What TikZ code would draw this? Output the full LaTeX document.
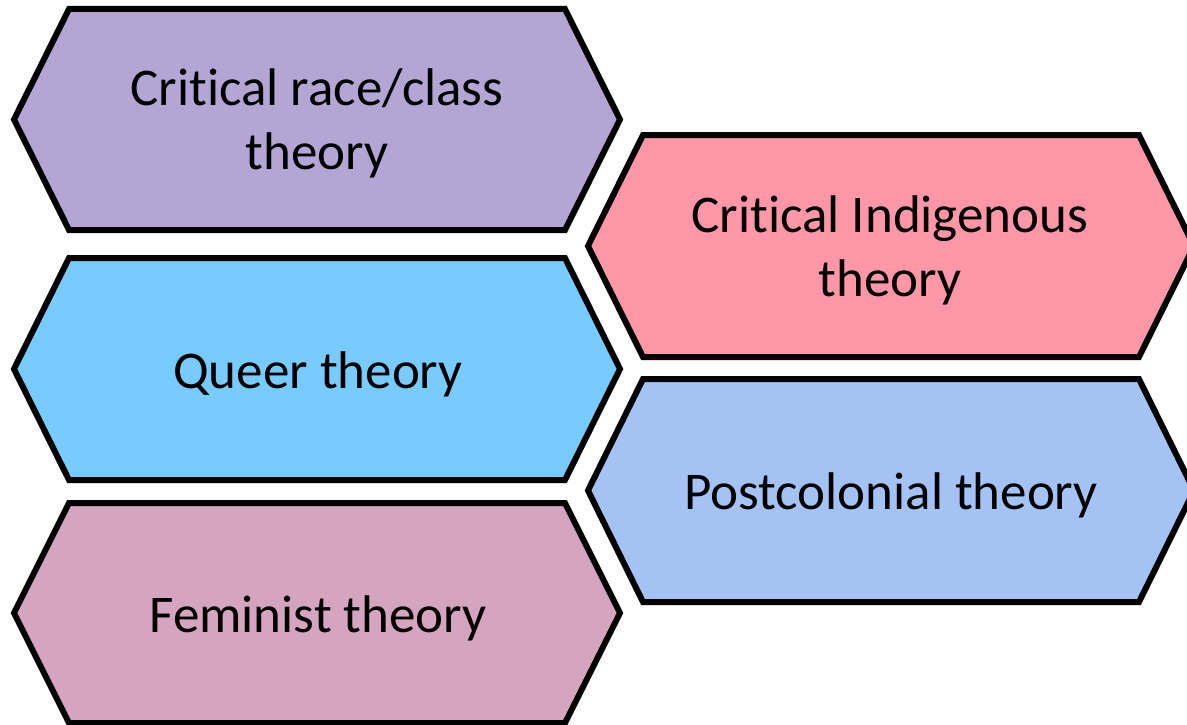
\documentclass[tikz,border=0pt]{standalone}
\usepackage{fontspec}
\setmainfont{Carlito}[Ligatures=NoCommon, RawFeature={-liga;-calt;-dlig}]
\definecolor{cpurple}{HTML}{B3A6D5}
\definecolor{cpink}{HTML}{FF97A8}
\definecolor{cqueer}{HTML}{78CBFE}
\definecolor{cpost}{HTML}{A5C2F4}
\definecolor{cfem}{HTML}{D5A4BE}
\tikzset{
  hexbox/.style={draw=black, line width=6pt, line join=miter},
  lbl/.style={font=\fontsize{53}{64}\selectfont, align=center, text=black, inner sep=0pt}
}
% #1 left x, #2 top y, #3 bottom y, #4 fill
\newcommand\hexpath[4]{%
  \path[hexbox, fill=#4] (#1,{(#2+#3)/2}) -- ({#1+55},#2) -- ({#1+551},#2) -- ({#1+606},{(#2+#3)/2}) -- ({#1+551},#3) -- ({#1+55},#3) -- cycle;}
\begin{document}
\begin{tikzpicture}[x=1pt,y=-1pt]
  \useasboundingbox (0,0) rectangle (1187,725);
  \clip (0,0) rectangle (1187,725);
  \hexpath{14}{9}{230}{cpurple}
  \hexpath{14}{258}{480}{cqueer}
  \hexpath{14}{503}{723}{cfem}
  \hexpath{588}{135}{357}{cpink}
  \hexpath{588}{379}{602}{cpost}
  \node[lbl] (crit) at (317,123) {Crit\kern0pt ical race/class\\theory};
  \node[lbl] (queer) at (318,374) {Queer theory};
  \node[lbl] (fem) at (318,618) {Feminist theory};
  \node[lbl] (indig) at (890,250) {Crit\kern0pt ical Indigenous\\theory};
  \node[lbl] (post) at (891,495) {Postcolonial theory};
\end{tikzpicture}
\end{document}
